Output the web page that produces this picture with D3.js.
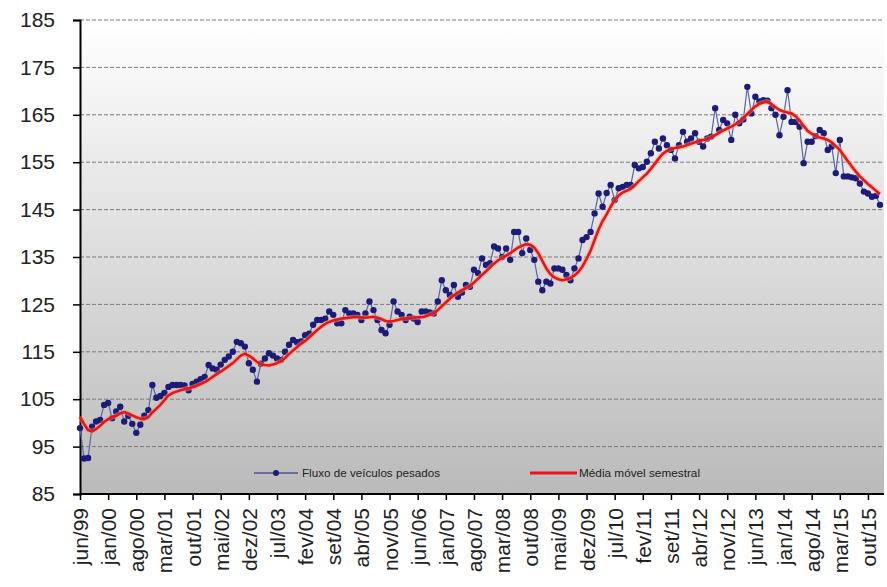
<!DOCTYPE html>
<html>
<head>
<meta charset="utf-8">
<script src="https://cdn.jsdelivr.net/npm/d3@7"></script>
<style>
  body { margin: 0; background: #fff; }
  svg { display: block; font-family: "Liberation Sans", Arial, sans-serif; }
</style>
</head>
<body>
<div id="content"></div>
<script>
// monthly values, jun/99 ... jan/16
var fluxo = [
  98.9, 92.5, 92.6, 99.2, 100.3, 100.6, 103.8, 104.2, 101, 102.4, 103.4, 100.3,
  101.5, 99.8, 97.9, 99.6, 101.5, 102.7, 108, 105.3, 105.7, 106.3, 107.6, 108,
  108, 108, 107.9, 106.9, 108.2, 108.7, 109.2, 109.7, 112.2, 111.5, 111.2, 112.3,
  113.3, 114, 115, 117.1, 116.8, 116.1, 112.6, 111.2, 108.7, 112.5, 113.6, 114.7,
  114.2, 113.6, 113.3, 115, 116.5, 117.5, 117, 117.2, 118.5, 118.8, 120.7, 121.7,
  121.7, 122, 123.5, 122.8, 121, 121, 123.8, 123.1, 123.1, 122.8, 121.7, 123.1,
  125.6, 123.8, 121.7, 119.6, 118.9, 120.7, 125.6, 123.5, 122.8, 121.7, 122.4, 122,
  121.3, 123.5, 123.5, 123.3, 123.1, 125.6, 130.1, 128, 127, 129.1, 126.6, 127.5,
  129.1, 128.7, 132.3, 131.6, 134.7, 133.3, 133.7, 137.2, 136.8, 135, 136.8, 134.4,
  140.3, 140.3, 135.8, 138.9, 136.5, 134.4, 129.8, 128, 129.8, 129.4, 132.6, 132.6,
  132.3, 131.2, 130.1, 132.6, 134.7, 138.6, 139.2, 140.3, 144.2, 148.4, 145.6, 148.5,
  150.2, 147, 149.5, 149.8, 150.2, 150.2, 154.4, 153.7, 154, 155.1, 156.9, 159.3,
  157.9, 160, 158.6, 157.6, 155.8, 158.6, 161.4, 159.3, 160, 161.1, 159.3, 158.3,
  160, 160.4, 166.4, 161.8, 163.9, 163.2, 159.7, 165, 163.2, 164, 170.9, 165.3,
  168.8, 167.8, 168.1, 168, 166.4, 165, 160.7, 164.6, 170.2, 163.5, 163.5, 162.5,
  154.8, 159.3, 159.3, 160.5, 161.8, 161.1, 157.6, 158.3, 152.7, 159.7, 152, 152,
  151.8, 151.6, 150.5, 148.8, 148.4, 147.7, 147.9, 146
];

var mediaMovel = [
  101.3, 99.8, 98.5, 98.2, 98.7, 99.4, 100.2, 100.8, 101.2, 101.5, 102, 102.3,
  102, 101.6, 101.2, 100.9, 100.8, 101.2, 102.2, 103, 103.8, 104.8, 105.8, 106.3,
  106.6, 106.9, 107.1, 107.3, 107.5, 107.8, 108.2, 108.6, 109.1, 109.7, 110.3, 110.8,
  111.4, 112, 112.6, 113.4, 114.2, 114.6, 114.2, 113.6, 112.9, 112.4, 112.2, 112.1,
  112.3, 112.6, 113, 113.7, 114.5, 115.3, 116, 116.7, 117.3, 118, 118.8, 119.6,
  120.3, 120.9, 121.3, 121.6, 121.8, 122, 122.1, 122.2, 122.3, 122.3, 122.3, 122.2,
  122.3, 122.4, 122.2, 121.9, 121.5, 121.4, 121.5, 121.7, 121.9, 122, 122.1, 122.2,
  122.3, 122.3, 122.5, 122.8, 123.2, 123.8, 124.6, 125.4, 126.2, 126.9, 127.5, 128,
  128.4, 128.9, 129.6, 130.4, 131.2, 132, 132.8, 133.6, 134.3, 134.8, 135.3, 135.8,
  136.4, 137, 137.4, 137.7, 137.6, 137, 135.8, 134.2, 132.6, 131.4, 130.7, 130.3,
  130.1, 130.3, 130.6, 131.1, 131.9, 133, 134.6, 136.3, 138.6, 140.8, 142.6, 144,
  145.6, 147, 148, 148.6, 149, 149.4, 150.1, 151, 151.8, 152.6, 153.6, 154.7,
  155.8, 156.8, 157.4, 157.8, 158, 158.1, 158.3, 158.6, 158.9, 159.2, 159.5, 159.7,
  159.9, 160.2, 160.7, 161.2, 161.7, 162.1, 162.5, 163, 163.6, 164.3, 165.2, 166,
  166.8, 167.3, 167.6, 167.8, 167.3, 166.6, 166, 165.7, 165.5, 165.3, 164.7, 163.8,
  162.7, 161.6, 161, 160.6, 160.2, 160, 159.7, 159.2, 158.4, 157.6, 156.4, 155.2,
  154.1, 153, 152, 151.2, 150.4, 149.7, 149, 148.3
];

// one label every 7 months
var tickLabels = [
  "jun/99", "jan/00", "ago/00", "mar/01", "out/01", "mai/02", "dez/02", "jul/03",
  "fev/04", "set/04", "abr/05", "nov/05", "jun/06", "jan/07", "ago/07", "mar/08",
  "out/08", "mai/09", "dez/09", "jul/10", "fev/11", "set/11", "abr/12", "nov/12",
  "jun/13", "jan/14", "ago/14", "mar/15", "out/15"
];
var tickStep = 7;

var yTicks = [85, 95, 105, 115, 125, 135, 145, 155, 165, 175, 185];

var legendNames = ["Fluxo de veículos pesados", "Média móvel semestral"];

var width = 887, height = 587;
var margin = {top: 20, right: 884, bottom: 494, left: 80};

var svg = d3.select("#content").append("svg")
  .attr("width", width)
  .attr("height", height);

var defs = svg.append("defs");
var grad = defs.append("linearGradient")
  .attr("id", "bg").attr("x1", 0).attr("y1", 0).attr("x2", 0).attr("y2", 1);
grad.append("stop").attr("offset", "0%").attr("stop-color", "#ffffff");
grad.append("stop").attr("offset", "100%").attr("stop-color", "#bababa");

var x_scale = d3.scaleLinear().domain([0, fluxo.length - 1]).range([margin.left, 880]);
var y_scale = d3.scaleLinear().domain([85, 185]).range([margin.bottom, margin.top]);

svg.append("rect")
  .attr("x", margin.left).attr("y", margin.top)
  .attr("width", margin.right - margin.left).attr("height", margin.bottom - margin.top)
  .attr("fill", "url(#bg)");

// dashed gridlines
svg.append("g").selectAll("line")
  .data(yTicks.slice(1))
  .enter().append("line")
  .attr("x1", margin.left).attr("x2", margin.right)
  .attr("y1", function(d) { return y_scale(d); })
  .attr("y2", function(d) { return y_scale(d); })
  .attr("stroke", "#7a7a7a")
  .attr("stroke-width", 1)
  .attr("stroke-dasharray", "4,2");

// y axis
var yAxis = svg.append("g")
  .attr("transform", "translate(" + margin.left + ",0)")
  .call(d3.axisLeft(y_scale).tickValues(yTicks).tickSize(7).tickPadding(18).tickFormat(d3.format("d")));
yAxis.select(".domain").attr("stroke", "#000").attr("stroke-width", 2);
yAxis.selectAll(".tick line").attr("stroke", "#000").attr("stroke-width", 1.5);
yAxis.selectAll("text").attr("font-size", 21).attr("fill", "#222")
  .attr("font-family", "'Liberation Sans', Arial, sans-serif");

// x axis
var tickIdx = tickLabels.map(function(d, i) { return i * tickStep; });
var xAxis = svg.append("g")
  .attr("transform", "translate(0," + margin.bottom + ")")
  .call(d3.axisBottom(x_scale).tickValues(tickIdx).tickSize(6).tickSizeOuter(0)
    .tickFormat(function(d, i) { return tickLabels[i]; }));
xAxis.select(".domain").attr("stroke", "#000").attr("stroke-width", 2)
  .attr("d", "M" + margin.left + ",0H" + margin.right);
xAxis.selectAll(".tick line").attr("stroke", "#000").attr("stroke-width", 1.5);
xAxis.selectAll("text")
  .attr("font-size", 21).attr("fill", "#222")
  .attr("font-family", "'Liberation Sans', Arial, sans-serif")
  .attr("text-anchor", "end")
  .attr("transform", "rotate(-90)")
  .attr("x", -14).attr("y", 0).attr("dy", "0.36em");

// series 1: flux with markers
var line = d3.line()
  .x(function(d, i) { return x_scale(i); })
  .y(function(d) { return y_scale(d); });

svg.append("path")
  .datum(fluxo)
  .attr("fill", "none")
  .attr("stroke", "#5a64a8")
  .attr("stroke-width", 1.2)
  .attr("d", line);

svg.append("g").selectAll("circle")
  .data(fluxo)
  .enter().append("circle")
  .attr("cx", function(d, i) { return x_scale(i); })
  .attr("cy", function(d) { return y_scale(d); })
  .attr("r", 3.2)
  .attr("fill", "#1c1c78");

// series 2: moving average
svg.append("path")
  .datum(mediaMovel)
  .attr("fill", "none")
  .attr("stroke", "#ff9a70")
  .attr("stroke-opacity", 0.5)
  .attr("stroke-width", 5)
  .attr("stroke-linejoin", "round")
  .attr("d", line);
svg.append("path")
  .datum(mediaMovel)
  .attr("fill", "none")
  .attr("stroke", "#e4161b")
  .attr("stroke-width", 2.6)
  .attr("stroke-linejoin", "round")
  .attr("d", line);

// legend
var lg = svg.append("g").attr("font-size", 10).attr("fill", "#222");
lg.append("line").attr("x1", 254).attr("x2", 298).attr("y1", 473).attr("y2", 473)
  .attr("stroke", "#1c1c78").attr("stroke-width", 1.2);
lg.append("circle").attr("cx", 276).attr("cy", 473).attr("r", 3).attr("fill", "#1c1c78");
lg.append("text").attr("x", 302).attr("y", 476.5)
  .attr("textLength", 138).attr("lengthAdjust", "spacingAndGlyphs")
  .text(legendNames[0]);
lg.append("line").attr("x1", 530).attr("x2", 577).attr("y1", 473).attr("y2", 473)
  .attr("stroke", "#e4161b").attr("stroke-width", 3);
lg.append("text").attr("x", 579).attr("y", 476.5)
  .attr("textLength", 121).attr("lengthAdjust", "spacingAndGlyphs")
  .text(legendNames[1]);
</script>
</body>
</html>
